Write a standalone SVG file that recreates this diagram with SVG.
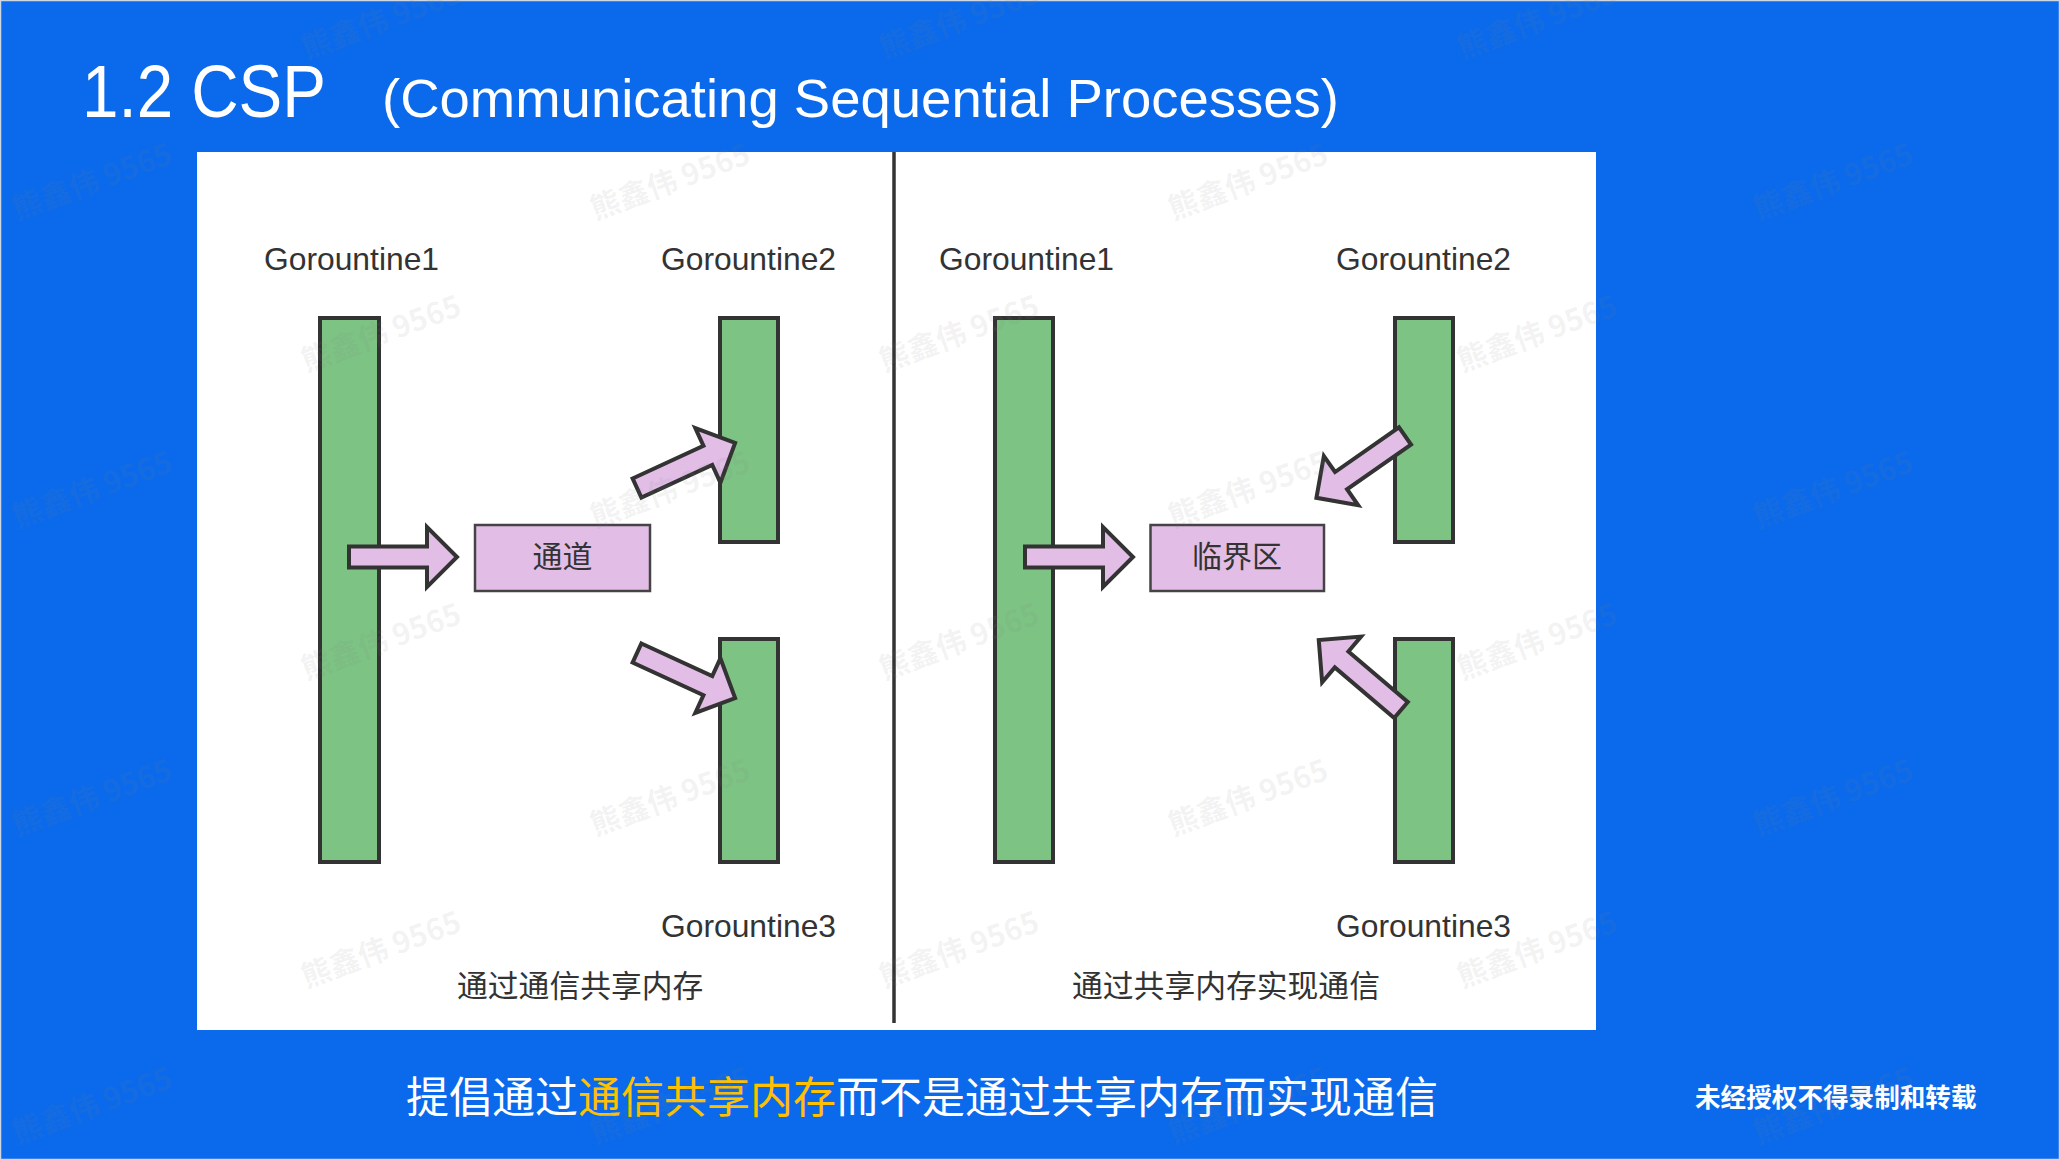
<svg xmlns="http://www.w3.org/2000/svg" xmlns:xlink="http://www.w3.org/1999/xlink" width="2060" height="1160" viewBox="0 0 2060 1160">
<style>
.bar{fill:#7DC384;stroke:#333;stroke-width:4}
.box{fill:#E2BEE6;stroke:#444;stroke-width:2.5}
.arrow{fill:#E2BEE6;stroke:#333;stroke-width:4;stroke-linejoin:miter}
.lbl{font-family:"Liberation Sans",Arial,sans-serif;font-size:31.8px;fill:#333}
.cjk{font-family:"Noto Sans CJK SC",sans-serif;font-size:30px;fill:#333}
.cap{font-family:"Noto Sans CJK SC",sans-serif;font-size:30.8px;fill:#333}
.wm{font-family:"Noto Sans CJK SC",sans-serif;font-size:30px;font-weight:bold;fill:#808080;fill-opacity:0.1}
</style>
<defs>
<path id="arr" d="M0,-10.5 L78,-10.5 L78,-30 L108,0 L78,30 L78,10.5 L0,10.5 Z"/>
<text id="wm" class="wm" x="0" y="11" text-anchor="middle" transform="rotate(-20)">熊鑫伟 9565</text>
</defs>
<rect x="0" y="0" width="2060" height="1160" fill="#0B6AEB"/>
<rect x="0.5" y="0.5" width="2059" height="1159" fill="none" stroke="#cdd6e2" stroke-width="1.5"/>
<g id="title">
<text x="82" y="117" font-family="Liberation Sans,Arial,sans-serif" font-size="75" fill="#fff" textLength="244" lengthAdjust="spacingAndGlyphs">1.2 CSP</text>
<text x="382" y="117" font-family="Liberation Sans,Arial,sans-serif" font-size="54" fill="#fff" textLength="957" lengthAdjust="spacingAndGlyphs">(Communicating Sequential Processes)</text>
</g>
<rect id="panel" x="197" y="152" width="1399" height="878" fill="#fff"/>
<line x1="894" y1="152" x2="894" y2="1023" stroke="#333" stroke-width="3.5"/>
<g id="left-g1"><rect class="bar" x="320" y="318" width="59" height="544"/><text class="lbl" x="264" y="270">Gorountine1</text></g>
<g id="left-g2"><rect class="bar" x="720" y="318" width="58" height="224"/><text class="lbl" x="661" y="270">Gorountine2</text></g>
<g id="left-g3"><rect class="bar" x="720" y="639" width="58" height="223"/><text class="lbl" x="661" y="937">Gorountine3</text></g>
<g id="left-channel"><rect class="box" x="475" y="525" width="175" height="66"/><text class="cjk" x="562.5" y="567" text-anchor="middle">通道</text></g>
<g id="right-g1"><rect class="bar" x="995" y="318" width="58" height="544"/><text class="lbl" x="939" y="270">Gorountine1</text></g>
<g id="right-g2"><rect class="bar" x="1395" y="318" width="58" height="224"/><text class="lbl" x="1336" y="270">Gorountine2</text></g>
<g id="right-g3"><rect class="bar" x="1395" y="639" width="58" height="223"/><text class="lbl" x="1336" y="937">Gorountine3</text></g>
<g id="right-critical"><rect class="box" x="1150.5" y="525" width="173.5" height="66"/><text class="cjk" x="1237" y="567" text-anchor="middle">临界区</text></g>
<g id="connectors">
<use href="#arr" class="arrow" transform="translate(349,557)"/>
<use href="#arr" class="arrow" transform="translate(637,488) rotate(-24.7)"/>
<use href="#arr" class="arrow" transform="translate(637,653) rotate(24.7)"/>
<use href="#arr" class="arrow" transform="translate(1025,557)"/>
<use href="#arr" class="arrow" transform="translate(1405,436) rotate(145.1)"/>
<use href="#arr" class="arrow" transform="translate(1401,710) rotate(-139.6)"/>
</g>
<g id="captions">
<text class="cap" x="457" y="997">通过通信共享内存</text>
<text class="cap" x="1072" y="997">通过共享内存实现通信</text>
</g>
<g id="footer">
<text x="406" y="1113" font-family="Noto Sans CJK SC,sans-serif" font-size="43" fill="#fff">提倡通过<tspan fill="#FFC000">通信共享内存</tspan>而不是通过共享内存而实现通信</text>
<text x="1695" y="1107" font-family="Noto Sans CJK SC,sans-serif" font-size="25.6" font-weight="bold" fill="#fff">未经授权不得录制和转载</text>
</g>
<g id="watermarks">
<use href="#wm" transform="translate(381,20)"/><use href="#wm" transform="translate(959,20)"/><use href="#wm" transform="translate(1537,20)"/>
<use href="#wm" transform="translate(92,181)"/><use href="#wm" transform="translate(670,181)"/><use href="#wm" transform="translate(1248,181)"/><use href="#wm" transform="translate(1833,181)"/>
<use href="#wm" transform="translate(381,333)"/><use href="#wm" transform="translate(959,333)"/><use href="#wm" transform="translate(1537,333)"/>
<use href="#wm" transform="translate(92,489)"/><use href="#wm" transform="translate(670,489)"/><use href="#wm" transform="translate(1248,489)"/><use href="#wm" transform="translate(1833,489)"/>
<use href="#wm" transform="translate(381,641)"/><use href="#wm" transform="translate(959,641)"/><use href="#wm" transform="translate(1537,641)"/>
<use href="#wm" transform="translate(92,797)"/><use href="#wm" transform="translate(670,797)"/><use href="#wm" transform="translate(1248,797)"/><use href="#wm" transform="translate(1833,797)"/>
<use href="#wm" transform="translate(381,949)"/><use href="#wm" transform="translate(959,949)"/><use href="#wm" transform="translate(1537,949)"/>
<use href="#wm" transform="translate(92,1105)"/><use href="#wm" transform="translate(670,1105)"/><use href="#wm" transform="translate(1248,1105)"/><use href="#wm" transform="translate(1833,1105)"/>
</g>
</svg>
